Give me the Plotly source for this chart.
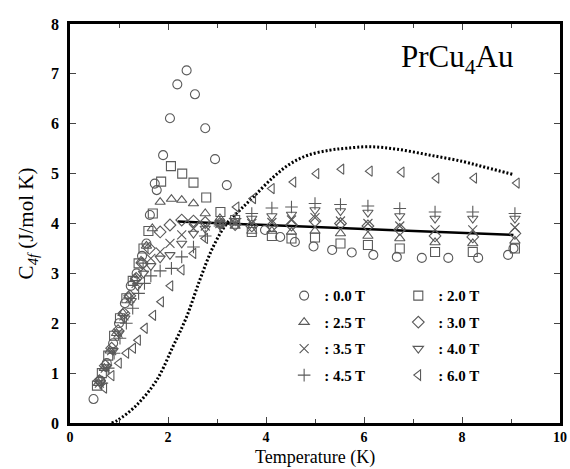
import plotly.graph_objects as go

# ---------------- data ----------------
t_00 = [0.48, 0.62, 0.75, 0.88, 1.0, 1.12, 1.24, 1.36, 1.47, 1.56, 1.63, 1.73, 1.77, 1.9, 2.04, 2.19, 2.38, 2.55, 2.76, 2.96, 3.2, 3.98, 4.29, 4.59, 4.97, 5.35, 5.75, 6.19, 6.67, 7.18, 7.72, 8.33, 8.94, 9.05]
c_00 = [0.48, 0.85, 1.2, 1.6, 2.0, 2.4, 2.75, 3.0, 3.35, 3.6, 4.17, 4.8, 4.67, 5.37, 6.11, 6.79, 7.07, 6.59, 5.91, 5.29, 4.77, 3.87, 3.73, 3.63, 3.54, 3.47, 3.42, 3.37, 3.33, 3.31, 3.31, 3.31, 3.37, 3.5]

t_20 = [0.55, 0.65, 0.78, 0.9, 1.02, 1.15, 1.28, 1.4, 1.5, 1.6, 1.69, 1.86, 2.06, 2.29, 2.52, 2.78, 3.07, 3.37, 3.71, 4.12, 4.52, 5.0, 5.52, 6.08, 6.73, 7.45, 8.22, 9.08]
c_20 = [0.75, 1.0, 1.35, 1.75, 2.1, 2.5, 2.85, 3.2, 3.5, 3.85, 4.2, 4.84, 5.15, 5.0, 4.82, 4.52, 4.23, 4.07, 3.83, 3.75, 3.7, 3.72, 3.6, 3.57, 3.5, 3.43, 3.43, 3.5]

t_25 = [0.58, 0.7, 0.82, 0.95, 1.08, 1.2, 1.33, 1.45, 1.56, 1.68, 1.84, 2.07, 2.28, 2.52, 2.76, 3.06, 3.37, 3.71, 4.12, 4.52, 5.0, 5.52, 6.08, 6.73, 7.45, 8.22, 9.08]
c_25 = [0.8, 1.1, 1.45, 1.8, 2.2, 2.55, 2.9, 3.25, 3.55, 3.9, 4.43, 4.49, 4.47, 4.4, 4.2, 4.1, 3.95, 3.85, 3.85, 3.83, 3.85, 3.8, 3.75, 3.7, 3.62, 3.6, 3.65]

t_30 = [0.6, 0.72, 0.85, 0.98, 1.1, 1.22, 1.35, 1.48, 1.62, 1.84, 2.04, 2.28, 2.52, 2.76, 3.06, 3.37, 3.71, 4.12, 4.52, 5.0, 5.52, 6.08, 6.73, 7.45, 8.22, 9.08]
c_30 = [0.85, 1.15, 1.5, 1.85, 2.2, 2.55, 2.9, 3.2, 3.5, 3.83, 3.97, 4.07, 4.05, 4.02, 4.0, 3.98, 3.95, 3.95, 3.97, 4.05, 4.0, 3.95, 3.88, 3.75, 3.73, 3.8]

t_35 = [0.6, 0.72, 0.85, 0.98, 1.1, 1.22, 1.35, 1.5, 1.65, 1.84, 2.04, 2.28, 2.52, 2.76, 3.06, 3.37, 3.71, 4.12, 4.52, 5.0, 5.52, 6.08, 6.73, 7.45, 8.22, 9.08]
c_35 = [0.8, 1.1, 1.45, 1.8, 2.15, 2.5, 2.8, 3.1, 3.3, 3.43, 3.6, 3.77, 3.9, 3.95, 4.0, 4.0, 4.0, 4.02, 4.07, 4.12, 4.05, 4.0, 3.95, 3.87, 3.87, 3.92]

t_40 = [0.62, 0.75, 0.88, 1.0, 1.12, 1.25, 1.38, 1.5, 1.65, 1.84, 2.04, 2.28, 2.52, 2.76, 3.06, 3.37, 3.71, 4.12, 4.52, 5.0, 5.52, 6.08, 6.73, 7.45, 8.22, 9.08]
c_40 = [0.8, 1.12, 1.45, 1.8, 2.1, 2.45, 2.75, 3.0, 3.15, 3.3, 3.37, 3.6, 3.8, 3.9, 4.0, 4.05, 4.1, 4.15, 4.18, 4.27, 4.25, 4.22, 4.15, 4.1, 4.1, 4.1]

t_45 = [0.65, 0.78, 0.9, 1.02, 1.15, 1.28, 1.4, 1.52, 1.65, 1.84, 2.07, 2.28, 2.52, 2.76, 3.06, 3.37, 3.71, 4.12, 4.52, 5.0, 5.52, 6.08, 6.73, 7.45, 8.22, 9.08]
c_45 = [0.8, 1.1, 1.4, 1.7, 2.0, 2.3, 2.6, 2.8, 2.95, 3.05, 3.1, 3.33, 3.53, 3.75, 3.95, 4.1, 4.2, 4.31, 4.33, 4.4, 4.38, 4.35, 4.3, 4.23, 4.23, 4.2]

t_60 = [0.7, 0.85, 1.0, 1.15, 1.29, 1.39, 1.53, 1.7, 1.86, 2.05, 2.28, 2.52, 2.76, 3.06, 3.4, 3.74, 4.12, 4.56, 5.03, 5.54, 6.12, 6.77, 7.48, 8.25, 9.12]
c_60 = [0.7, 0.95, 1.2, 1.4, 1.5, 1.66, 1.9, 2.16, 2.43, 2.75, 3.07, 3.4, 3.7, 4.0, 4.33, 4.5, 4.7, 4.83, 5.0, 5.09, 5.05, 5.03, 4.91, 4.91, 4.81]

# solid line
t_line = [2.2, 4.29, 6.5, 9.05]
c_line = [4.04, 3.95, 3.87, 3.77]

# dotted (Schottky) curve
t_dot = [0.85, 0.98, 1.36, 1.77, 2.1, 2.38, 2.65, 2.92, 3.2, 3.47, 3.74, 4.15, 4.5, 4.86, 5.3, 5.65, 6.12, 6.67, 7.35, 8.03, 8.5, 9.05]
c_dot = [0.0, 0.06, 0.36, 0.86, 1.53, 2.13, 2.87, 3.53, 4.0, 4.27, 4.53, 4.93, 5.2, 5.37, 5.47, 5.51, 5.54, 5.49, 5.37, 5.24, 5.12, 4.98]

labels = [": 0.0 T", ": 2.0 T", ": 2.5 T", ": 3.0 T", ": 3.5 T", ": 4.0 T", ": 4.5 T", ": 6.0 T"]
x_ticks = [0, 2, 4, 6, 8, 10]
y_ticks = [0, 1, 2, 3, 4, 5, 6, 7, 8]

series = [
    (t_00, c_00, "circle-open", "legend"),
    (t_20, c_20, "square-open", "legend2"),
    (t_25, c_25, "triangle-up-open", "legend"),
    (t_30, c_30, "diamond-open", "legend2"),
    (t_35, c_35, "x-thin-open", "legend"),
    (t_40, c_40, "triangle-down-open", "legend2"),
    (t_45, c_45, "cross-thin-open", "legend"),
    (t_60, c_60, "triangle-left-open", "legend2"),
]

SERIF = "Liberation Serif, Times New Roman, serif"
MCOL = "#5a5a5a"

fig = go.Figure()

fig.add_trace(go.Scatter(x=t_dot, y=c_dot, mode="lines", showlegend=False,
                         line=dict(color="black", width=3, dash="2px,2px", shape="spline")))
fig.add_trace(go.Scatter(x=t_line, y=c_line, mode="lines", showlegend=False,
                         line=dict(color="black", width=2.5)))

for i, ((tx, cy, sym, leg), lab) in enumerate(zip(series, labels)):
    fig.add_trace(go.Scatter(
        x=tx, y=cy, mode="markers", name=lab, legend=leg, legendgroup="g%d" % i,
        marker=dict(symbol=sym, size=9, color=MCOL, line=dict(width=1.1, color=MCOL)),
    ))

legend_common = dict(
    font=dict(family=SERIF, size=15, color="black", weight="bold"),
    bgcolor="rgba(0,0,0,0)", borderwidth=0, tracegroupgap=4,
    yanchor="top", xanchor="left", itemwidth=30,
)

fig.update_layout(
    width=570, height=469,
    margin=dict(l=70, r=10, t=24, b=46),
    plot_bgcolor="white", paper_bgcolor="white",
    font=dict(family=SERIF, color="black"),
    legend=dict(x=0.437, y=0.36, **legend_common),
    legend2=dict(x=0.670, y=0.36, **legend_common),
    xaxis=dict(
        range=[0, 10], tickvals=x_ticks, ticks="inside", ticklen=6, tickwidth=1,
        minor=dict(dtick=1, ticks="inside", ticklen=4, tickwidth=1),
        showline=True, linewidth=2.5, linecolor="black", mirror="ticks",
        showgrid=False, zeroline=False, automargin=False, ticklabelstandoff=-1,
        tickfont=dict(family=SERIF, size=14, weight="bold"),
    ),
    yaxis=dict(
        range=[0, 8], tickvals=y_ticks, ticks="inside", ticklen=6, tickwidth=1,
        showline=True, linewidth=2.5, linecolor="black", mirror="ticks",
        showgrid=False, zeroline=False, automargin=False, ticklabelstandoff=5,
        tickfont=dict(family=SERIF, size=16, weight="bold"),
        title=dict(text="C<sub><i>4f</i></sub> (J/mol K)", font=dict(family=SERIF, size=21), standoff=12),
    ),
    annotations=[
        dict(x=0.789, y=0.912, xref="paper", yref="paper", showarrow=False,
             xanchor="center", yanchor="middle",
             text="PrCu<sub>4</sub>Au", font=dict(family=SERIF, size=31, color="black")),
        dict(x=0.5, y=-0.1145, xref="paper", yref="paper", showarrow=False,
             xanchor="center", yanchor="bottom", borderpad=0,
             text="Temperature (K)", font=dict(family=SERIF, size=18, color="black")),
    ],
)

fig.write_html("out.html", config={"displayModeBar": False},
               post_script="document.body.style.margin='0';document.body.style.padding='0';")
